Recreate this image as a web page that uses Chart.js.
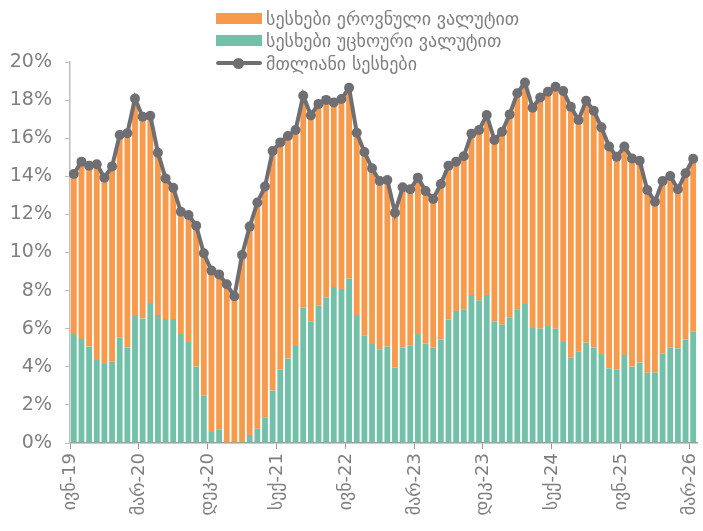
<!DOCTYPE html>
<html>
<head>
<meta charset="utf-8">
<script src="https://cdn.jsdelivr.net/npm/chart.js@4"></script>
<style>
  body { margin: 0; background: #fff; }
  #wrap { position: relative; width: 703px; height: 531px; }
  #legend { position: absolute; left: 216px; top: 7px; font-family: "DejaVu Sans"; font-size: 18px; color: #7f7f7f; }
  .row { height: 22.5px; display: flex; align-items: center; }
  .sw { width: 46px; height: 11px; margin-right: 4px; }
  .ln { width: 46px; height: 4px; margin-right: 4px; background: #6f6f73; position: relative; border-radius: 2px; }
  .ln::after { content: ""; position: absolute; left: 17px; top: -3.5px; width: 11px; height: 11px; border-radius: 50%; background: #6f6f73; }
</style>
</head>
<body>
<div id="wrap">
  <canvas id="c" width="703" height="531"></canvas>
  <div id="legend">
    <div class="row"><span class="sw" style="background:#f79a4b"></span>სესხები ეროვნული ვალუტით</div>
    <div class="row"><span class="sw" style="background:#72c0a7"></span>სესხები უცხოური ვალუტით</div>
    <div class="row"><span class="ln"></span>მთლიანი სესხები</div>
  </div>
</div>
<script>
const labels = [
  'ივნ-19','ივლ-19','აგვ-19','სექ-19','ოქტ-19','ნოე-19','დეკ-19',
  'იან-20','თებ-20','მარ-20','აპრ-20','მაი-20','ივნ-20','ივლ-20','აგვ-20','სექ-20','ოქტ-20','ნოე-20','დეკ-20',
  'იან-21','თებ-21','მარ-21','აპრ-21','მაი-21','ივნ-21','ივლ-21','აგვ-21','სექ-21','ოქტ-21','ნოე-21','დეკ-21',
  'იან-22','თებ-22','მარ-22','აპრ-22','მაი-22','ივნ-22','ივლ-22','აგვ-22','სექ-22','ოქტ-22','ნოე-22','დეკ-22',
  'იან-23','თებ-23','მარ-23','აპრ-23','მაი-23','ივნ-23','ივლ-23','აგვ-23','სექ-23','ოქტ-23','ნოე-23','დეკ-23',
  'იან-24','თებ-24','მარ-24','აპრ-24','მაი-24','ივნ-24','ივლ-24','აგვ-24','სექ-24','ოქტ-24','ნოე-24','დეკ-24',
  'იან-25','თებ-25','მარ-25','აპრ-25','მაი-25','ივნ-25','ივლ-25','აგვ-25','სექ-25','ოქტ-25','ნოე-25','დეკ-25',
  'იან-26','თებ-26','მარ-26'
];

// loans in national currency (orange)
const domestic = [
  8.40, 9.31, 9.50, 10.27, 9.78, 10.25, 10.64, 11.24, 11.41, 10.60,
  9.83, 8.52, 7.38, 6.89, 6.42, 6.67, 7.40, 7.48, 8.47, 8.13,
  8.36, 7.73, 9.82, 10.94, 11.87, 12.11, 12.58, 11.91, 11.69, 11.29,
  11.13, 10.81, 10.59, 10.36, 9.69, 9.98, 10.02, 9.57, 9.65, 9.22,
  8.83, 8.75, 8.12, 8.40, 8.19, 8.21, 8.00, 7.81, 8.16, 8.07,
  7.84, 8.03, 8.47, 8.94, 9.45, 9.52, 10.13, 10.65, 11.34, 11.62,
  11.56, 12.14, 12.30, 12.70, 13.13, 13.17, 12.17, 12.70, 12.42, 11.90,
  11.64, 11.16, 10.94, 10.93, 10.60, 9.59, 8.96, 9.06, 9.02, 8.35,
  8.72, 9.08
];

// loans in foreign currency (green)
const foreign = [
  5.72, 5.46, 5.06, 4.36, 4.15, 4.27, 5.53, 5.02, 6.67, 6.53,
  7.35, 6.72, 6.51, 6.51, 5.72, 5.30, 4.01, 2.48, 0.58, 0.72,
  -0.03, -0.03, 0.05, 0.42, 0.75, 1.35, 2.75, 3.87, 4.43, 5.14,
  7.10, 6.39, 7.21, 7.65, 8.19, 8.08, 8.63, 6.72, 5.63, 5.20,
  4.92, 5.06, 3.97, 5.02, 5.13, 5.72, 5.23, 5.00, 5.44, 6.49,
  6.93, 7.02, 7.77, 7.49, 7.77, 6.39, 6.21, 6.60, 7.02, 7.30,
  6.04, 6.00, 6.14, 6.00, 5.35, 4.48, 4.79, 5.27, 5.02, 4.67,
  3.92, 3.87, 4.62, 4.01, 4.22, 3.69, 3.71, 4.69, 5.00, 4.97,
  5.44, 5.84
];

// total loans (line)
const total = [
  14.12, 14.77, 14.56, 14.63, 13.93, 14.52, 16.17, 16.26, 18.08, 17.13,
  17.18, 15.24, 13.89, 13.40, 12.14, 11.97, 11.41, 9.96, 9.05, 8.85,
  8.33, 7.70, 9.87, 11.36, 12.62, 13.46, 15.33, 15.78, 16.12, 16.43,
  18.23, 17.20, 17.80, 18.01, 17.88, 18.06, 18.65, 16.29, 15.28, 14.42,
  13.75, 13.81, 12.09, 13.42, 13.32, 13.93, 13.23, 12.81, 13.60, 14.56,
  14.77, 15.05, 16.24, 16.43, 17.22, 15.91, 16.34, 17.25, 18.36, 18.92,
  17.60, 18.14, 18.44, 18.70, 18.48, 17.65, 16.96, 17.97, 17.44, 16.57,
  15.56, 15.03, 15.56, 14.94, 14.82, 13.28, 12.67, 13.75, 14.02, 13.32,
  14.16, 14.92
];

const grey = '#7f7f7f';

new Chart(document.getElementById('c'), {
  type: 'bar',
  data: {
    labels: labels,
    datasets: [
      {
        type: 'line',
        label: 'მთლიანი სესხები',
        data: total,
        borderColor: '#6f6f73',
        backgroundColor: '#6f6f73',
        borderWidth: 4,
        pointRadius: 5,
        pointBorderWidth: 0,
        tension: 0,
        stack: 'total',
        order: 0
      },
      {
        label: 'სესხები უცხოური ვალუტით',
        data: foreign,
        backgroundColor: '#72c0a7',
        barPercentage: 0.76,
        categoryPercentage: 1,
        stack: 'loans',
        order: 1
      },
      {
        label: 'სესხები ეროვნული ვალუტით',
        data: domestic,
        backgroundColor: '#f79a4b',
        barPercentage: 0.76,
        categoryPercentage: 1,
        stack: 'loans',
        order: 2
      }
    ]
  },
  options: {
    responsive: false,
    animation: false,
    layout: { padding: { left: 0, right: 6, top: 62, bottom: 0 } },
    plugins: {
      legend: { display: false },
      tooltip: { enabled: false }
    },
    scales: {
      x: {
        stacked: true,
        offset: true,
        afterFit: s => { s.height = 88; s.paddingRight = 0; s.paddingLeft = 0; },
        border: { color: '#9a9a9a', width: 1.5 },
        grid: {
          offset: true,
          drawOnChartArea: false,
          tickLength: 6,
          color: ctx => (ctx.index % 9 === 0 ? '#9a9a9a' : 'rgba(0,0,0,0)')
        },
        ticks: {
          autoSkip: false,
          maxRotation: 90,
          minRotation: 90,
          labelOffset: -3,
          padding: 4,
          color: grey,
          font: { family: 'DejaVu Sans', size: 18 },
          callback: (v, i) => (i % 9 === 0 ? labels[i] : '')
        }
      },
      y: {
        stacked: true,
        min: 0,
        max: 20,
        afterFit: s => { s.width = 70; },
        border: { color: '#c0c0c0', width: 1.5 },
        grid: { drawOnChartArea: false, tickLength: 5, color: '#c0c0c0' },
        ticks: {
          stepSize: 2,
          padding: 13,
          color: grey,
          font: { family: 'DejaVu Sans', size: 19 },
          callback: v => v + '%'
        }
      }
    }
  }
});
</script>
</body>
</html>
